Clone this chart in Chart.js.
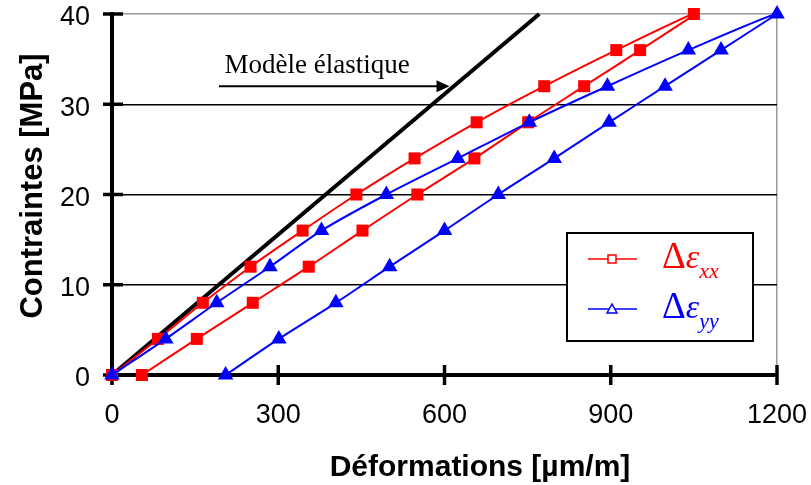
<!DOCTYPE html>
<html>
<head>
<meta charset="utf-8">
<script src="https://cdn.jsdelivr.net/npm/chart.js@4.4.0/dist/chart.umd.min.js"></script>
<style>
  body { margin: 0; background: #fff; }
  #wrap { width: 811px; height: 485px; position: relative; }
</style>
</head>
<body>
<div id="wrap"><canvas id="chart"></canvas></div>
<script>
// contraintes (MPa) : montée puis descente
var stress = [0, 4, 8, 12, 16, 20, 24, 28, 32, 36, 40, 36, 32, 28, 24, 20, 16, 12, 8, 4, 0];
// déformations (µm/m)
var strainXX = [0, 83, 164, 250, 344, 441, 546, 658, 780, 910, 1050, 953, 852, 751, 654, 551, 452, 355, 254, 153, 54];
var strainYY = [0, 97, 189, 285, 378, 495, 624, 753, 894, 1040, 1200, 1099, 998, 897, 798, 697, 600, 501, 404, 301, 205];
// modèle élastique
var elasticStrain = [0, 771];
var elasticStress = [0, 40];

var xTicks = [0, 300, 600, 900, 1200];
var yTicks = [0, 10, 20, 30, 40];

function toPoints(xs, ys) {
  return xs.map(function (x, i) { return { x: x, y: ys[i] }; });
}

var SANS = 'Liberation Sans';
var SERIF = 'Liberation Serif';

// tick marks crossing the axes
var axisTicks = {
  id: 'axisTicks',
  beforeDatasetsDraw: function (chart) {
    var ctx = chart.ctx, a = chart.chartArea;
    var xs = chart.scales.x, ys = chart.scales.y;
    ctx.save();
    ctx.strokeStyle = '#000';
    ctx.lineWidth = 3.5;
    yTicks.forEach(function (v) {
      var p = ys.getPixelForValue(v);
      ctx.beginPath(); ctx.moveTo(a.left - 9, p); ctx.lineTo(a.left + 11, p); ctx.stroke();
    });
    xTicks.forEach(function (v) {
      var p = xs.getPixelForValue(v);
      ctx.beginPath(); ctx.moveTo(p, a.bottom - 10); ctx.lineTo(p, a.bottom + 10); ctx.stroke();
    });
    ctx.restore();
  }
};

// titles, annotation and legend box
var decor = {
  id: 'decor',
  afterDraw: function (chart) {
    var ctx = chart.ctx, a = chart.chartArea;
    var xs = chart.scales.x, ys = chart.scales.y;
    ctx.save();
    ctx.fillStyle = '#000';

    // axis titles
    ctx.font = 'bold 31px ' + SANS;
    ctx.textAlign = 'center';
    ctx.textBaseline = 'alphabetic';
    ctx.save();
    ctx.translate(42, 186);
    ctx.rotate(-Math.PI / 2);
    ctx.fillText('Contraintes [MPa]', 0, 0);
    ctx.restore();
    ctx.font = 'bold 30px ' + SANS;
    ctx.fillText('Déformations [µm/m]', 480, 476);

    // "Modèle élastique" + arrow
    var ay = ys.getPixelForValue(32);
    var ax0 = xs.getPixelForValue(193), ax1 = xs.getPixelForValue(609);
    ctx.font = '27px ' + SERIF;
    ctx.textAlign = 'left';
    ctx.fillText('Modèle élastique', xs.getPixelForValue(203), ay - 13);
    ctx.strokeStyle = '#000';
    ctx.lineWidth = 2;
    ctx.beginPath(); ctx.moveTo(ax0, ay); ctx.lineTo(ax1 - 10, ay); ctx.stroke();
    ctx.beginPath();
    ctx.moveTo(ax1, ay); ctx.lineTo(ax1 - 13, ay - 6); ctx.lineTo(ax1 - 13, ay + 6); ctx.closePath();
    ctx.fill();

    // legend
    var bx = a.right - 210, by = a.top + 219, bw = 186, bh = 108;
    ctx.fillStyle = '#fff';
    ctx.fillRect(bx, by, bw, bh);
    ctx.strokeStyle = '#000';
    ctx.lineWidth = 2;
    ctx.strokeRect(bx, by, bw, bh);

    var rows = [
      { color: '#ff0000', sub: 'xx', y: by + 26, shape: 'rect' },
      { color: '#0000ff', sub: 'yy', y: by + 76, shape: 'tri' }
    ];
    rows.forEach(function (r) {
      var lx = bx + 21, mx = bx + 45;
      ctx.strokeStyle = r.color;
      ctx.lineWidth = 1.5;
      ctx.beginPath(); ctx.moveTo(lx, r.y); ctx.lineTo(lx + 49, r.y); ctx.stroke();
      ctx.fillStyle = '#fff';
      ctx.beginPath();
      if (r.shape === 'rect') {
        ctx.rect(mx - 4, r.y - 4, 8, 8);
      } else {
        ctx.moveTo(mx, r.y - 5); ctx.lineTo(mx + 5, r.y + 4); ctx.lineTo(mx - 5, r.y + 4); ctx.closePath();
      }
      ctx.fill(); ctx.stroke();

      ctx.fillStyle = r.color;
      var tx = bx + 95, base = r.y + 9;
      ctx.font = '37px ' + SERIF;
      ctx.fillText('Δ', tx, base);
      tx += ctx.measureText('Δ').width;
      ctx.font = 'italic 34px ' + SERIF;
      ctx.fillText('ε', tx, base);
      tx += ctx.measureText('ε').width;
      ctx.font = 'italic 22px ' + SERIF;
      ctx.fillText(r.sub, tx, base + 10);
    });
    ctx.restore();
  }
};

var tickFont = { family: SANS, size: 27 };
function plainLabel(v) { return String(v); }

new Chart(document.getElementById('chart'), {
  type: 'scatter',
  data: {
    datasets: [
      {
        label: 'Δεyy',
        data: toPoints(strainYY, stress),
        showLine: true,
        borderColor: '#0000ff',
        backgroundColor: '#0000ff',
        borderWidth: 2,
        tension: 0.3,
        pointStyle: 'triangle',
        pointRadius: 9,
        pointBorderWidth: 0,
        clip: false
      },
      {
        label: 'Δεxx',
        data: toPoints(strainXX, stress),
        showLine: true,
        borderColor: '#ff0000',
        backgroundColor: '#ff0000',
        borderWidth: 2,
        tension: 0.3,
        pointStyle: 'rect',
        pointRadius: 8.5,
        pointBorderWidth: 0,
        clip: false
      },
      {
        label: 'Modèle élastique',
        data: toPoints(elasticStrain, elasticStress),
        showLine: true,
        borderColor: '#000',
        borderWidth: 4,
        pointRadius: 0,
        tension: 0,
        clip: false
      }
    ]
  },
  options: {
    responsive: true,
    maintainAspectRatio: false,
    animation: false,
    layout: { padding: { left: 0, top: 14, right: 34, bottom: 0 } },
    plugins: {
      legend: { display: false },
      tooltip: { enabled: false }
    },
    scales: {
      x: {
        type: 'linear',
        min: 0,
        max: 1200,
        afterBuildTicks: function (s) { s.ticks = xTicks.map(function (v) { return { value: v }; }); },
        afterFit: function (s) { s.height = 110; s.paddingLeft = 0; s.paddingRight = 0; },
        grid: {
          drawTicks: false,
          lineWidth: 1.5,
          color: function (c) { return c.tick && c.tick.value === 1200 ? '#999' : 'rgba(0,0,0,0)'; }
        },
        border: { color: '#000', width: 4 },
        ticks: { color: '#000', font: tickFont, padding: 24, maxRotation: 0, callback: plainLabel }
      },
      y: {
        type: 'linear',
        min: 0,
        max: 40,
        afterBuildTicks: function (s) { s.ticks = yTicks.map(function (v) { return { value: v }; }); },
        afterFit: function (s) { s.width = 112; s.paddingTop = 0; s.paddingBottom = 0; },
        grid: {
          drawTicks: false,
          lineWidth: 1.5,
          color: function (c) {
            if (!c.tick) return 'rgba(0,0,0,0)';
            if (c.tick.value === 40) return '#999';
            if (c.tick.value === 0) return 'rgba(0,0,0,0)';
            return '#000';
          }
        },
        border: { color: '#000', width: 4 },
        ticks: { color: '#000', font: tickFont, padding: 22, labelOffset: 4, callback: plainLabel }
      }
    }
  },
  plugins: [axisTicks, decor]
});
</script>
</body>
</html>
